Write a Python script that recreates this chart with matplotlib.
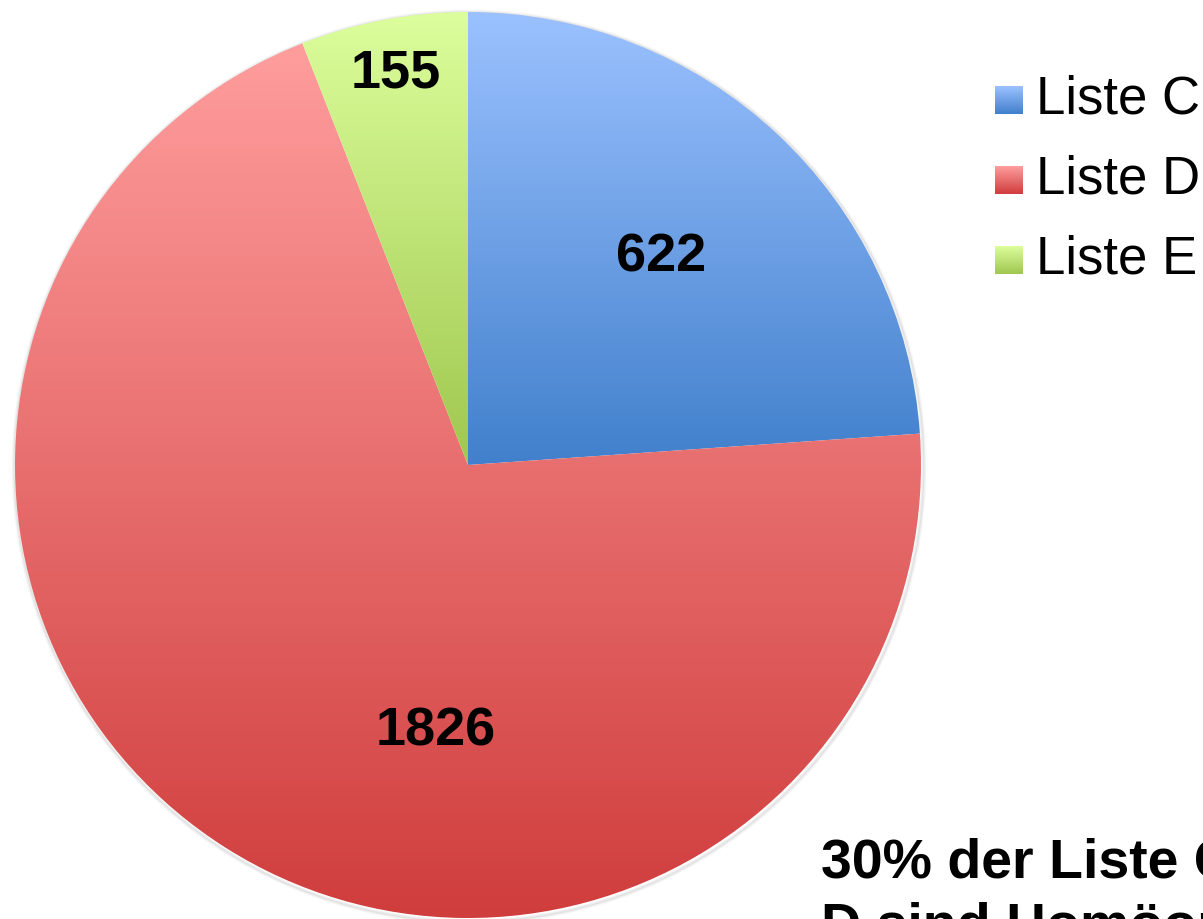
import numpy as np
import matplotlib
matplotlib.use('Agg')
from matplotlib import pyplot as plt
from matplotlib.colors import LinearSegmentedColormap
from matplotlib.patches import Circle

plt.rcParams['font.family'] = ['Liberation Sans', 'DejaVu Sans']

# data
labels = ['Liste C', 'Liste D', 'Liste E']
values = [622, 1826, 155]
# gradient (top colour, bottom colour) for each slice
grad_top = ['#9bc1ff', '#ff9d9d', '#dcfe9c']
grad_bot = ['#4180cc', '#d03d3d', '#a0c74f']
note_lines = ['30% der Liste C und', 'D sind Homöopathika']

W, H = 1203, 919
fig = plt.figure(figsize=(W / 100, H / 100), dpi=100)
ax = fig.add_axes([0, 0, 1, 1])

cx, cy, R = 468, H - 465, 453

# soft shadow
for k, a in enumerate([0.05, 0.04, 0.03]):
    ax.add_patch(Circle((cx + 1, cy - 2), R + 1 + k, facecolor='none',
                        edgecolor='black', alpha=a, lw=2, zorder=1))

wedges, _ = ax.pie(values, startangle=90, counterclock=False, center=(cx, cy),
                   radius=R, frame=True,
                   wedgeprops=dict(facecolor='none', edgecolor='none'))

# gradient fill clipped to each wedge
for w, c1, c2 in zip(wedges, grad_top, grad_bot):
    bb = w.get_path().get_extents()
    cmap = LinearSegmentedColormap.from_list('g', [c2, c1])
    grad = np.linspace(0, 1, 256).reshape(-1, 1)
    im = ax.imshow(grad, cmap=cmap, aspect='auto', origin='lower',
                   extent=[bb.x0, bb.x1, bb.y0, bb.y1], zorder=2,
                   interpolation='bilinear')
    im.set_clip_path(w)

# value labels
label_pos = [(661, 257), (436, 732), (396, 73)]
for v, (x, y) in zip(values, label_pos):
    ax.text(x, H - y, str(v), ha='center', va='center', fontsize=39,
            fontweight='bold', color='black', zorder=5)

# legend with gradient squares
for i, (lab, c1, c2) in enumerate(zip(labels, grad_top, grad_bot)):
    yc = H - (100 + 80 * i)
    cmap = LinearSegmentedColormap.from_list('g', [c2, c1])
    grad = np.linspace(0, 1, 64).reshape(-1, 1)
    ax.imshow(grad, cmap=cmap, aspect='auto', origin='lower',
              extent=[995, 1023, yc - 14, yc + 14], zorder=5,
              interpolation='bilinear')
    ax.text(1036, yc + 1, lab, ha='left', va='center', fontsize=38, zorder=5)

# note text, partly outside the figure like the original
for j, line in enumerate(note_lines):
    ax.text(821, H - (878 + 64 * j), line, ha='left', va='baseline',
            fontsize=40, fontweight='bold', zorder=5)

ax.set_xlim(0, W)
ax.set_ylim(0, H)
ax.set_aspect('auto')
ax.axis('off')

fig.savefig('out.png', dpi=100)
